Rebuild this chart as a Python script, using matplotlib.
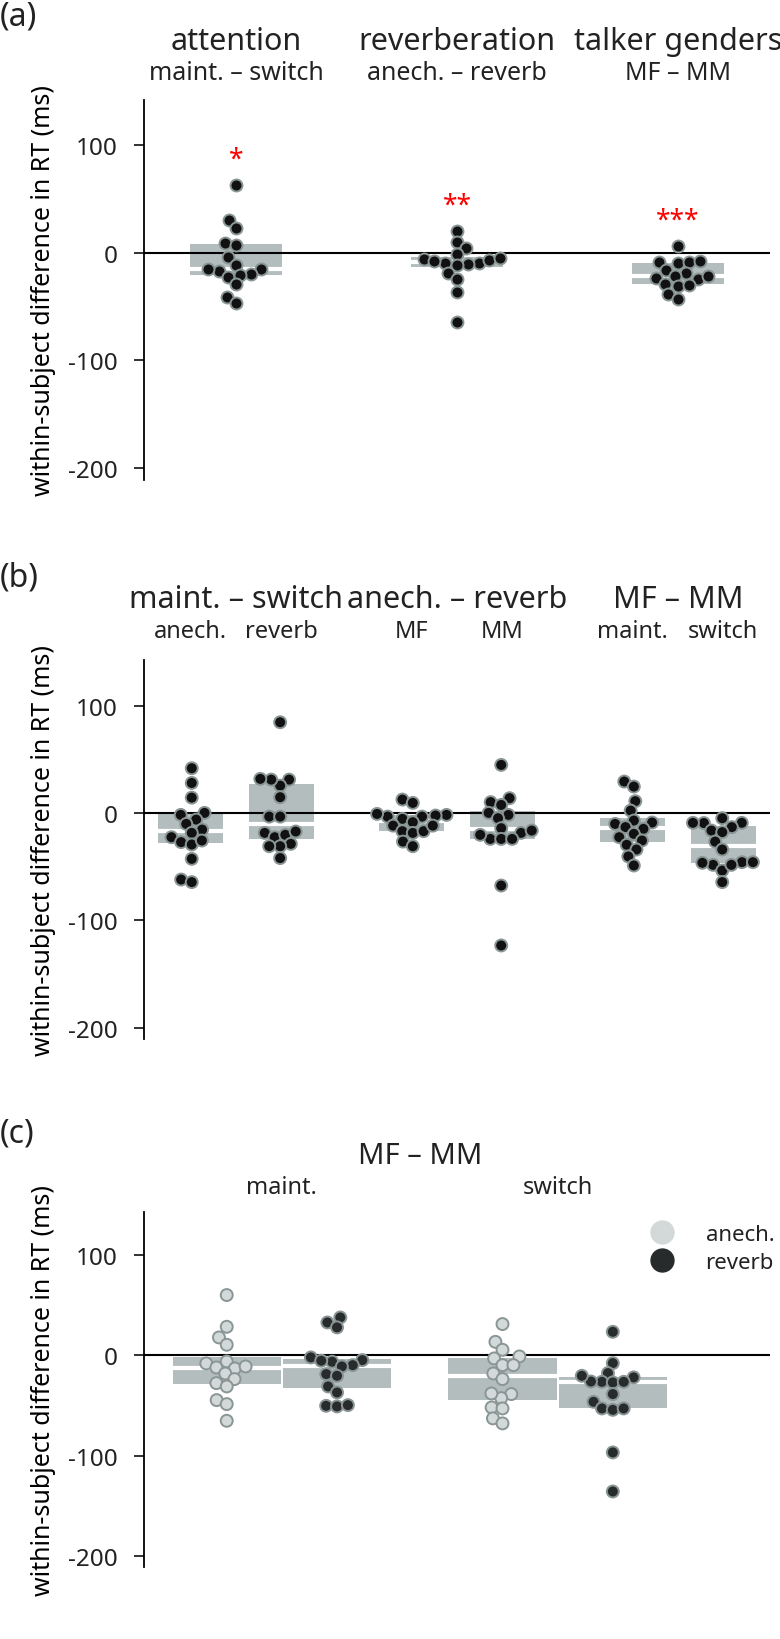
import numpy as np
import pandas as pd
import matplotlib
matplotlib.use('Agg')
import matplotlib.pyplot as plt
from matplotlib.lines import Line2D
import seaborn as sns

plt.rcParams['font.family'] = ['Noto Sans', 'DejaVu Sans']
plt.rcParams['axes.unicode_minus'] = False
plt.rcParams['text.color'] = '#222222'
plt.rcParams['ytick.color'] = '#222222'

# ---- (a) main effects, within-subject differences (ms)
groups_a = ['attention', 'reverberation', 'talker genders']
contrasts_a = ['maint. – switch', 'anech. – reverb', 'MF – MM']
sig_a = ['*', '**', '***']
attention = [63.5, 30.7, 23.5, 9.0, 7.8, -4.0, -10.9, -15.2, -16.7, -15.2,
             -19.5, -22.3, -20.2, -29.1, -40.6, -46.5]
reverberation = [20.8, 10.0, 4.6, -1.0, -5.6, -9.3, -9.3, -10.2, -10.9, -7.8,
                 -6.2, -4.7, -18.6, -24.2, -36.6, -63.9]
talker = [6.8, -8.1, -9.3, -8.7, -7.1, -15.5, -18.6, -21.1, -23.3, -24.2,
          -21.1, -28.8, -30.4, -29.8, -38.1, -42.8]

# ---- (b) simple effects
groups_b = ['maint. – switch', 'anech. – reverb', 'MF – MM']
subs_b = [('anech.', 'reverb'), ('MF', 'MM'), ('maint.', 'switch')]
att_anech = [41.9, 28.2, 14.5, 0.3, -1.6, -6.0, -10.0, -15.3, -18.4, -22.4,
             -27.0, -29.2, -25.5, -42.6, -61.9, -64.3]
att_reverb = [84.8, 31.3, 25.7, 31.3, 32.0, 14.9, -3.2, -3.2, -18.4, -22.4,
              -20.2, -17.1, -28.6, -30.8, -30.8, -41.9]
rev_MF = [12.7, 9.6, -1.6, -3.2, -5.3, -8.4, -3.2, -2.2, -0.7, -11.6,
          -16.8, -18.4, -16.8, -11.6, -26.5, -30.8]
rev_MM = [45.0, 10.3, 14.0, 7.7, -1.6, 0.3, -4.7, -14.0, -18.4, -24.0,
          -24.0, -24.0, -20.2, -16.2, -67.5, -123.4]
tg_maint = [29.5, 24.8, 11.2, 2.4, -6.9, -10.0, -8.7, -13.0, -14.6, -19.3,
            -22.4, -25.5, -29.5, -33.9, -40.4, -48.8]
tg_switch = [-4.7, -9.0, -9.2, -13.0, -9.0, -16.2, -17.7, -26.5, -33.9, -45.7,
             -48.2, -53.5, -48.2, -46.3, -45.7, -64.3]

# ---- (c) MF - MM by attention and room
groups_c = ['maint.', 'switch']
rooms_c = ['anech.', 'reverb']
maint_anech = [59.8, 28.2, 17.6, 10.3, -8.3, -6.3, -12.3, -13.3, -11.3, -18.3,
               -23.9, -27.9, -31.2, -44.8, -48.8, -65.4]
maint_reverb = [32.5, 37.5, 27.6, -2.3, -6.6, -5.6, -5.0, -10.0, -11.3, -18.9,
                -20.6, -31.2, -37.2, -50.5, -51.1, -49.8]
switch_anech = [30.9, 13.2, 5.3, -1.3, -3.3, -10.0, -10.0, -18.3, -23.9, -38.8,
                -42.8, -38.2, -52.1, -53.1, -63.0, -68.0]
switch_reverb = [23.2, -8.0, -17.9, -22.2, -26.6, -27.2, -26.6, -26.3, -20.6, -38.8,
                 -46.5, -53.1, -54.5, -53.1, -96.9, -135.8]

box_gray = '#b3bdbd'
edge_gray = '#8a9595'
dot_dark = '#111111'
anech_col = '#d3d9d9'
reverb_col = '#272b2b'
ylab = 'within-subject difference in RT (ms)'

# swarm is laid out with a slightly smaller marker than the one drawn,
# so neighbouring dots touch/overlap a little like in the original
layout_size, layout_lw = 7.0, 0.5
dot_size, dot_lw = 8.6, 1.4

W, H = 780, 1640
fig = plt.figure(figsize=(W / 100, H / 100), dpi=100)


def make_ax(top, height):
    return fig.add_axes([144 / W, 1 - (top + height) / H, 626 / W, height / H])


def style(ax):
    ax.set_ylim(-211, 142.5)
    ax.set_yticks([-200, -100, 0, 100])
    for s in ['top', 'right', 'bottom']:
        ax.spines[s].set_visible(False)
    ax.spines['left'].set_linewidth(1.3)
    ax.tick_params(axis='y', length=7, width=1.3, pad=12, labelsize=17.5)
    ax.set_xticks([])
    ax.set_xlabel('')
    ax.axhline(0, color='k', lw=1.5, zorder=2)
    ax.set_ylabel(ylab, fontsize=18, va='center')
    ax.yaxis.set_label_coords(-0.161, 0.5)


def boxes(ax, data, pos, width):
    ax.boxplot(data, positions=pos, widths=width, patch_artist=True,
               showfliers=False, showcaps=False, whis=0, manage_ticks=False,
               boxprops=dict(facecolor=box_gray, edgecolor='none', linewidth=0),
               whiskerprops=dict(visible=False),
               medianprops=dict(color='white', linewidth=3), zorder=1)


# ---------------- panel (a)
ax = make_ax(100.8, 380)
data_a = [attention, reverberation, talker]
df_a = pd.DataFrame({'group': sum([[g] * len(v) for g, v in zip(groups_a, data_a)], []),
                     'diff': sum(data_a, [])})
boxes(ax, data_a, [0, 1, 2], 0.416)
sns.swarmplot(data=df_a, x='group', y='diff', order=groups_a, color=dot_dark,
              edgecolor=edge_gray, linewidth=layout_lw, size=layout_size,
              ax=ax, zorder=3)
style(ax)
ax.set_xlim(-0.416, 2.416)
xt = ax.get_xaxis_transform()
for i, (g, c, s, v) in enumerate(zip(groups_a, contrasts_a, sig_a, data_a)):
    ax.text(i, 1.155, g, transform=xt, ha='center', va='center', fontsize=22)
    ax.text(i, 1.072, c, transform=xt, ha='center', va='center', fontsize=18)
    ax.text(i, max(v) + 17, s, color='red', ha='center', va='baseline', fontsize=19)
fig.text(0.0, 1 - 17 / H, '(a)', fontsize=23, ha='left', va='center')

# ---------------- panel (b)
ax = make_ax(661.4, 379)
data_b = [[att_anech, att_reverb], [rev_MF, rev_MM], [tg_maint, tg_switch]]
rows = []
for g, pair in zip(groups_b, data_b):
    for k, vals in enumerate(pair):
        rows += [(g, k, x) for x in vals]
df_b = pd.DataFrame(rows, columns=['group', 'sub', 'diff'])
boxes(ax, [v for pair in data_b for v in pair],
      [g + d for g in range(3) for d in (-0.205, 0.205)], 0.294)
sns.swarmplot(data=df_b, x='group', y='diff', hue='sub', order=groups_b,
              hue_order=[0, 1], dodge=True, palette=[dot_dark, dot_dark],
              edgecolor=edge_gray, linewidth=layout_lw, size=layout_size,
              legend=False, ax=ax, zorder=3)
style(ax)
ax.set_xlim(-0.416, 2.416)
xt = ax.get_xaxis_transform()
for i, (g, (s1, s2)) in enumerate(zip(groups_b, subs_b)):
    ax.text(i, 1.163, g, transform=xt, ha='center', va='center', fontsize=22)
    ax.text(i - 0.205, 1.077, s1, transform=xt, ha='center', va='center', fontsize=17)
    ax.text(i + 0.205, 1.077, s2, transform=xt, ha='center', va='center', fontsize=17)
fig.text(0.0, 1 - 578 / H, '(b)', fontsize=23, ha='left', va='center')

# ---------------- panel (c)
ax = make_ax(1213, 355)
data_c = [[maint_anech, maint_reverb], [switch_anech, switch_reverb]]
rows = []
for g, pair in zip(groups_c, data_c):
    for r, vals in zip(rooms_c, pair):
        rows += [(g, r, x) for x in vals]
df_c = pd.DataFrame(rows, columns=['att', 'room', 'diff'])
boxes(ax, [v for pair in data_c for v in pair],
      [g + d for g in range(2) for d in (-0.2, 0.2)], 0.392)
sns.swarmplot(data=df_c, x='att', y='diff', hue='room', order=groups_c,
              hue_order=rooms_c, dodge=True,
              palette={'anech.': anech_col, 'reverb': reverb_col},
              edgecolor=edge_gray, linewidth=layout_lw, size=layout_size,
              legend=False, ax=ax, zorder=3)
style(ax)
ax.set_xlim(-0.5, 1.77)
xt = ax.get_xaxis_transform()
ax.text(0.5, 1.16, 'MF – MM', transform=xt, ha='center', va='center', fontsize=21)
for i, g in enumerate(groups_c):
    ax.text(i, 1.07, g, transform=xt, ha='center', va='center', fontsize=17)
handles = [Line2D([], [], ls='', marker='o', ms=16.5, mfc=c, mec=c)
           for c in (anech_col, reverb_col)]
ax.legend(handles, rooms_c, loc='center left', bbox_to_anchor=(0.81, 0.897),
          frameon=False, fontsize=16, handlelength=1.0, handletextpad=1.45,
          labelspacing=0.3, borderpad=0, borderaxespad=0)
fig.text(0.0, 1 - 1134 / H, '(c)', fontsize=23, ha='left', va='center')

# seaborn places the swarm at draw time; fix that layout, then enlarge dots
fig.canvas.draw()
for a in fig.axes:
    for coll in a.collections:
        if 'draw' in coll.__dict__:
            del coll.draw
            coll.set_sizes([dot_size ** 2])
            coll.set_linewidth(dot_lw)

fig.savefig('out.png', dpi=100)
